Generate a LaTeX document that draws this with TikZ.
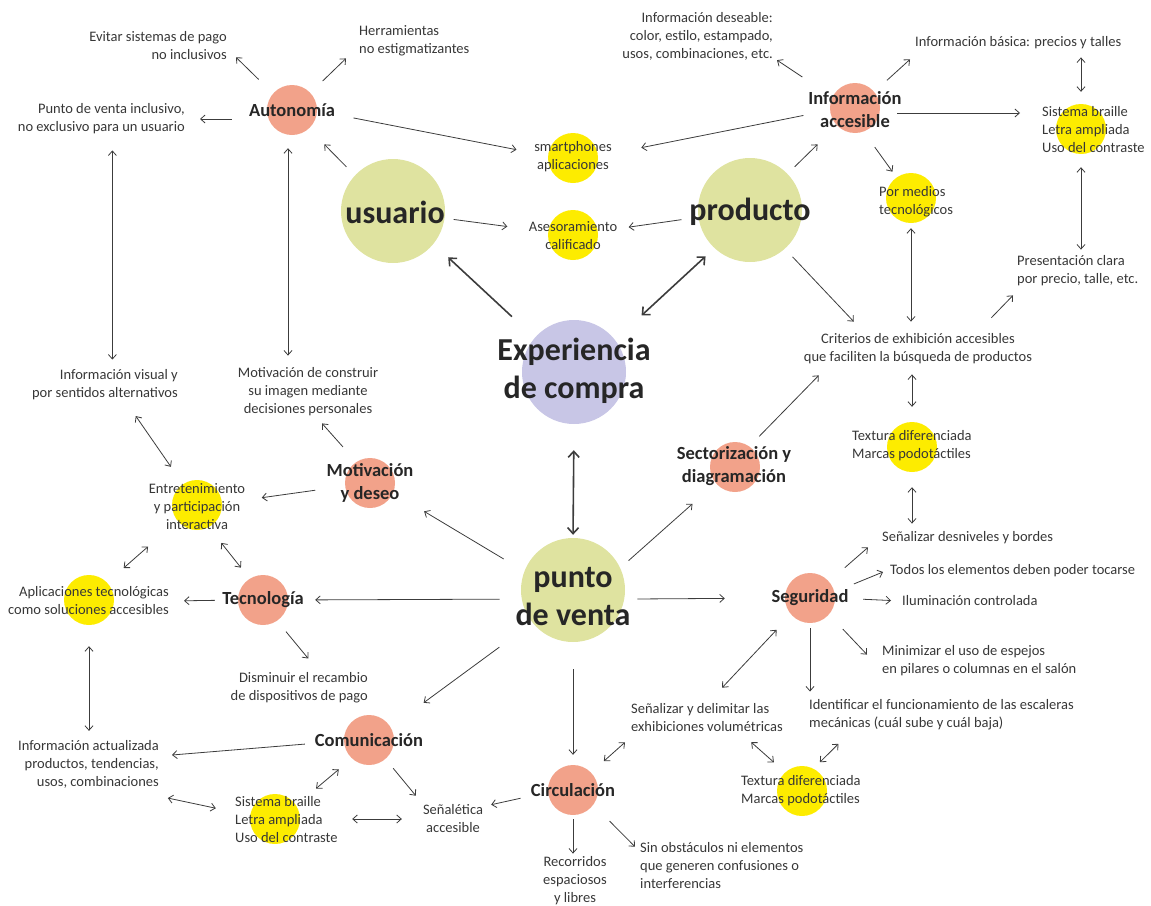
\documentclass[tikz,border=0pt]{standalone}
\usepackage{fontspec}
\setmainfont{Carlito}
\usepackage{tikz}
\usetikzlibrary{arrows.meta}
\usepackage{xcolor}
\definecolor{oliva}{RGB}{223,227,160}
\definecolor{lila}{RGB}{200,198,230}
\definecolor{salmon}{RGB}{242,162,138}
\definecolor{amarillo}{RGB}{253,236,0}
\definecolor{tinta}{RGB}{55,55,55}
\definecolor{flecha}{RGB}{60,60,60}

\begin{document}
\begin{tikzpicture}[x=1pt, y=-1pt,
    bigc/.style={circle, minimum size=104pt, inner sep=0pt},
    dot/.style={circle, minimum size=50pt, inner sep=0pt},
    txt/.style={inner sep=0pt, align=center, text=tinta, font=\fontsize{14.5}{18}\selectfont},
    hd/.style={inner sep=0pt, align=center, text=black!85, font=\fontsize{18.5}{23}\selectfont\bfseries},
    big/.style={inner sep=0pt, align=center, text=black!85, font=\fontsize{32}{38}\selectfont\bfseries},
    arr/.style={draw=flecha, line width=0.8pt, -{Straight Barb[length=4.5pt, width=8pt]}},
    arrb/.style={draw=flecha, line width=0.8pt, {Straight Barb[length=4.5pt, width=8pt]}-{Straight Barb[length=4.5pt, width=8pt]}},
    arrt/.style={draw=flecha, line width=1.6pt, -{Straight Barb[length=6pt, width=11pt]}},
    arrtb/.style={draw=flecha, line width=1.6pt, {Straight Barb[length=6pt, width=11pt]}-{Straight Barb[length=6pt, width=11pt]}}]
    \useasboundingbox (0,0) rectangle (1151,905);
    % main circles
    \node[bigc, fill=oliva] (usu) at (393,211) {};
    \node[bigc, fill=oliva] (prod) at (750,210) {};
    \node[bigc, fill=lila] (exp) at (574,372) {};
    \node[bigc, fill=oliva] (pv) at (573,590) {};
    % topics
    \node[dot, fill=salmon] (auto) at (292,110) {};
    \node[dot, fill=salmon] (info) at (855,108) {};
    \node[dot, fill=salmon] (motiv) at (370,483) {};
    \node[dot, fill=salmon] (sect) at (735,467) {};
    \node[dot, fill=salmon] (tecno) at (263,600) {};
    \node[dot, fill=salmon] (segu) at (810,598) {};
    \node[dot, fill=salmon] (comu) at (369,740) {};
    \node[dot, fill=salmon] (circ) at (573,790) {};
    % resources
    \node[dot, fill=amarillo] (smart) at (573,158) {};
    \node[dot, fill=amarillo] (ases) at (573,235) {};
    \node[dot, fill=amarillo] (medios) at (911,198) {};
    \node[dot, fill=amarillo] (braA) at (1081,129) {};
    \node[dot, fill=amarillo] (texA) at (912,447) {};
    \node[dot, fill=amarillo] (texB) at (802,791) {};
    \node[dot, fill=amarillo] (entre) at (197,505) {};
    \node[dot, fill=amarillo] (aplic) at (89,600) {};
    \node[dot, fill=amarillo] (braB) at (275,819) {};

    \node[big] (usuT) at (395,212) {usuario};
    \node[big] (prodT) at (750,212) {producto};
    \node[big] (expT) at (574,371) {Experiencia\\de compra};
    \node[big] (pvT) at (573,597) {punto\\de venta};
    \node[hd] (autoT) at (292,110) {Autonomía};
    \node[hd] (infoT) at (855,110) {Información\\accesible};
    \node[hd] (motivT) at (370,483) {Motivación\\y deseo};
    \node[hd] (sectT) at (734,466) {Sectorización y\\diagramación};
    \node[hd] (tecnoT) at (263,600) {Tecnología};
    \node[hd] (seguT) at (810,598) {Seguridad};
    \node[hd] (comuT) at (369,740) {Comunicación};
    \node[hd] (circT) at (573,790) {Circulación};

    \node[txt] (smartT) at (573,157) {smartphones\\aplicaciones};
    \node[txt] (asesT) at (573,236) {Asesoramiento\\calificado};
    \node[txt, anchor=west, align=left] (mediosT) at (879,202) {Por medios\\tecnológicos};
    \node[txt, anchor=west, align=left] (braAT) at (1042,130) {Sistema braille\\Letra ampliada\\Uso del contraste};
    \node[txt, anchor=west, align=left] (texAT) at (852,446) {Textura diferenciada\\Marcas podotáctiles};
    \node[txt, anchor=west, align=left] (texBT) at (741,791) {Textura diferenciada\\Marcas podotáctiles};
    \node[txt] (entreT) at (197,507) {Entretenimiento\\y participación\\interactiva};
    \node[txt, anchor=east, align=right] (aplicT) at (169,601) {Aplicaciones tecnológicas\\como soluciones accesibles};
    \node[txt, anchor=west, align=left] (braBT) at (235,820) {Sistema braille\\Letra ampliada\\Uso del contraste};

    \node[txt, anchor=east, align=right] (evitar) at (227,46) {Evitar sistemas de pago\\no inclusivos};
    \node[txt, anchor=west, align=left] (herram) at (359,41) {Herramientas\\no estigmatizantes};
    \node[txt, anchor=east, align=right] (pvinc) at (185,119) {Punto de venta inclusivo,\\no exclusivo para un usuario};
    \node[txt, anchor=east, align=right] (deseable) at (773,36) {Información deseable:\\color, estilo, estampado,\\usos, combinaciones, etc.};
    \node[txt, anchor=west] (basica) at (915,43) {Información básica: precios y talles};
    \node[txt, anchor=west, align=left] (present) at (1017,271) {Presentación clara\\por precio, talle, etc.};
    \node[txt] (criter) at (918,349) {Criterios de exhibición accesibles\\que faciliten la búsqueda de productos};
    \node[txt, anchor=east, align=right] (visual) at (178,385) {Información visual y\\por sentidos alternativos};
    \node[txt] (constr) at (308,392) {Motivación de construir\\su imagen mediante\\decisiones personales};
    \node[txt, anchor=east, align=right] (dismin) at (368,688) {Disminuir el recambio\\de dispositivos de pago};
    \node[txt, anchor=east, align=right] (actual) at (159,764) {Información actualizada\\productos, tendencias,\\usos, combinaciones};
    \node[txt] (senalet) at (453,819) {Señalética\\accesible};
    \node[txt] (recorr) at (575,881) {Recorridos\\espaciosos\\y libres};
    \node[txt, anchor=west, align=left] (sinobs) at (640,866) {Sin obstáculos ni elementos\\que generen confusiones o\\interferencias};
    \node[txt, anchor=west, align=left] (delim) at (631,718) {Señalizar y delimitar las\\exhibiciones volumétricas};
    \node[txt, anchor=west, align=left] (escal) at (809,715) {Identificar el funcionamiento de las escaleras\\mecánicas (cuál sube y cuál baja)};
    \node[txt, anchor=west, align=left] (espej) at (882,661) {Minimizar el uso de espejos\\en pilares o columnas en el salón};
    \node[txt, anchor=west] (desniv) at (882,538) {Señalizar desniveles y bordes};
    \node[txt, anchor=west] (tocar) at (890,571) {Todos los elementos deben poder tocarse};
    \node[txt, anchor=west] (ilum) at (902,601) {Iluminación controlada};

    % center
    \draw[arrt, shorten <=31pt, shorten >=20pt] (exp.139) -- (usu.-39);
    \draw[arrtb, shorten <=36pt, shorten >=12pt] (exp.38) -- (prod.-133);
    \draw[arrtb, shorten <=26pt, shorten >=3pt] (exp.south) -- (pv.north);
    % usuario
    \draw[arr, shorten <=12pt, shorten >=22pt] (usu.137) -- (auto.-48);
    \draw[arr, shorten <=9pt, shorten >=41pt] (usu.-8) -- (ases.173);
    \draw[arr, shorten <=20pt] (auto.139) -- ([xshift=9pt,yshift=3pt]evitar.south east);
    \draw[arr, shorten <=17pt] (auto.43) -- ([xshift=-13pt,yshift=-2pt]herram.south west);
    \draw[arr, shorten <=35pt, shorten >=15pt] (pvinc.east -| auto.west) -- (pvinc.east);
    \draw[arr, shorten <=37pt, shorten >=32pt] (auto.-2) -- (smart.175);
    \draw[arrb, shorten <=13pt, shorten >=12pt] ([xshift=-4pt]auto.south) -- ([xshift=-4pt]auto.south |- constr.north);
    \draw[arrb, shorten <=16pt, shorten >=10pt] ([xshift=11pt]pvinc.south) -- ([xshift=11pt]pvinc.south |- visual.north);
    % producto
    \draw[arr, shorten <=17pt, shorten >=31pt] (prod.188) -- (ases.8);
    \draw[arr, shorten <=10pt, shorten >=27pt] (prod.44) -- (info.-136);
    \draw[arr, shorten <=11pt] (prod.-48) -- ([xshift=50pt,yshift=12pt]criter.north west);
    \draw[arr, shorten <=27pt, shorten >=44pt] (info.185) -- (smart.4);
    \draw[arr, shorten <=36pt] (info.154) -- ([xshift=4pt]deseable.south east);
    \draw[arr, shorten <=17pt] (info.40) -- ([xshift=-5pt,yshift=-10pt]basica.south west);
    \draw[arr, shorten <=17pt, shorten >=22pt] ([yshift=-5pt]info.east) -- ([yshift=-5pt]info.east -| braAT.west);
    \draw[arr, shorten <=19pt, shorten >=7pt] (info.-70) -- (medios.125);
    \draw[arrb, shorten <=8pt, shorten >=12pt] (braA.north |- basica.south) -- (braA.north);
    \draw[arrb, shorten <=13pt, shorten >=6pt] (braA.south) -- (braA.south |- present.north);
    \draw[arrb, shorten <=5pt, shorten >=12pt] (medios.south) -- (medios.south |- criter.north);
    \draw[arr, shorten <=22pt] ([xshift=58pt]criter.north) -- ([xshift=-4pt,yshift=-9pt]present.south west);
    \draw[arrb, shorten <=10pt, shorten >=15pt] (criter.south -| texA) -- (texA.north);
    \draw[arrb, shorten <=15pt, shorten >=8pt] (texA.south) -- (texA.south |- desniv.north);
    \draw[arr, shorten <=14pt] (sect.55) -- ([xshift=15pt,yshift=-11pt]criter.south west);
    % punto de venta
    \draw[arr, shorten <=11pt, shorten >=31pt] (pv.25) -- (sect.-140);
    \draw[arr, shorten <=24pt, shorten >=36pt] (pv.159) -- (motiv.-23);
    \draw[arr, shorten <=20pt] (motiv.123) -- ([xshift=14pt,yshift=-7pt]constr.south);
    \draw[arr, shorten <=30pt, shorten >=40pt] (motiv.187) -- (entre.4);
    \draw[arrb, shorten <=19pt, shorten >=21pt] ([xshift=20pt]visual.south) -- (entre.124);
    \draw[arrb, shorten <=39pt, shorten >=22pt] (entre.-141) -- (aplic.44);
    \draw[arrb, shorten <=20pt, shorten >=14pt] (entre.-62) -- (tecno.122);
    \draw[arr, shorten <=22pt, shorten >=27pt] (pv.190) -- (tecno.east);
    \draw[arr, shorten <=23pt, shorten >=15pt] (tecno.west) -- (aplicT.east);
    \draw[arr, shorten <=14pt] (tecno.-56) -- ([xshift=9pt,yshift=14pt]dismin.north);
    \draw[arrb, shorten <=21pt, shorten >=9pt] (aplic.south) -- (aplic.south |- actual.north);
    \draw[arr, shorten <=41pt, shorten >=41pt] (pv.-141) -- (comu.31);
    \draw[arr, shorten <=39pt] (comu.182) -- ([xshift=13pt,yshift=9pt]actual.east);
    \draw[arrb, shorten <=17pt, shorten >=26pt] (comu.-133) -- (braB.33);
    \draw[arrb, shorten <=9pt, shorten >=35pt] ([yshift=-8pt]actual.south east) -- (braB.172);
    \draw[arrb, shorten <=52pt, shorten >=21pt] (braB.east) -- (braB.east -| senalet.west);
    \draw[arr, shorten <=12pt] (comu.-49) -- ([xshift=-7pt,yshift=9pt]senalet.north west);
    \draw[arr, shorten <=28pt] (circ.185) -- ([xshift=8pt]senalet.north east);
    \draw[arr, shorten <=27pt, shorten >=10pt] (pv.south) -- (circ.north);
    \draw[arr, shorten <=4pt, shorten >=3pt] (circ.south) -- (circ.south |- recorr.north);
    \draw[arr, shorten <=23pt] (circ.-36) -- ([xshift=-5pt,yshift=-4pt]sinobs.north west);
    \draw[arrb, shorten <=17pt] (circ.44) -- ([xshift=-6pt,yshift=-10pt]delim.south west);
    \draw[arrb, shorten <=22pt, shorten >=21pt] (delim.north) -- (segu.-139);
    \draw[arrb, shorten <=15pt, shorten >=15pt] ([xshift=33pt]delim.south) -- (texB.132);
    \draw[arrb, shorten <=19pt, shorten >=9pt] ([xshift=43pt]escal.south west) -- (texB.63);
    % seguridad
    \draw[arr, shorten <=13pt, shorten >=60pt] (pv.-10) -- (segu.west);
    \draw[arr, shorten <=5pt, shorten >=8pt] (segu.south) -- (segu.south |- escal.north);
    \draw[arr, shorten <=20pt] (segu.-41) -- ([xshift=-15pt,yshift=-9pt]espej.north west);
    \draw[arr, shorten <=21pt] (segu.41) -- ([xshift=-14pt,yshift=-3pt]desniv.south west);
    \draw[arr, shorten <=21pt] (segu.14) -- ([xshift=-7pt,yshift=-1pt]tocar.west);
    \draw[arr, shorten <=28pt, shorten >=11pt] (segu.east) -- (ilum.west);
\end{tikzpicture}
\end{document}
